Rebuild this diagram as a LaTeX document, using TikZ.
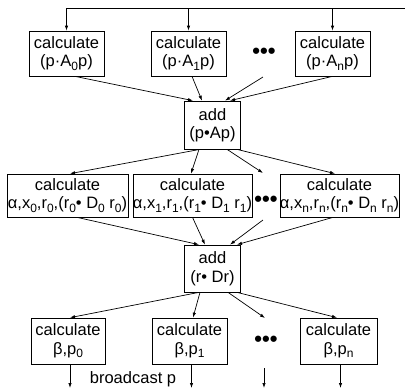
\documentclass[tikz,border=0pt]{standalone}
\usepackage{fontspec}
\setmainfont{Liberation Sans}
\usetikzlibrary{arrows.meta}
\newcommand{\ix}[1]{\raisebox{-0.4ex}{\fontsize{12}{12}\selectfont #1}}

\begin{document}
\begin{tikzpicture}[x=1pt,y=-1pt,line width=0.7pt,
      >={Latex[length=5pt,width=3.4pt]},
      every node/.style={font=\fontsize{16.5}{18.5}\selectfont},
      box/.style={draw,align=center,inner sep=0pt},
      calcbox/.style={box,minimum width=75pt,minimum height=45pt},
      widebox/.style={box,minimum width=120pt,minimum height=43pt},
      addbox/.style={box,minimum width=56pt,minimum height=48pt},
      etc/.style={inner sep=0pt,font=\fontsize{22}{22}\selectfont\bfseries}]

      \useasboundingbox (0,0) rectangle (405,389);

      \node[calcbox] (pa0) at (66.5,53.5) {calculate\\(p·A\ix{0}p)};
      \node[calcbox] (pa1) at (188.5,53.5) {calculate\\(p·A\ix{1}p)};
      \node[etc] (dots1) at (264,53) {•••};
      \node[calcbox] (pan) at (332.5,53.5) {calculate\\(p·A\ix{n}p)};

      \node[addbox] (addp) at (212.5,125) {add\\(p•Ap)};

      \node[widebox,minimum width=121pt] (al0) at (67.5,195.5)
        {calculate\\α,x\ix{0},r\ix{0},(r\ix{0}• D\ix{0} r\ix{0})};
      \node[widebox,minimum width=119pt] (al1) at (192.5,195.5)
        {calculate\\α,x\ix{1},r\ix{1},(r\ix{1}• D\ix{1} r\ix{1})};
      \node[etc] (dots2) at (266,201) {•••};
      \node[widebox,minimum width=117pt] (aln) at (339.5,195.5)
        {calculate\\α,x\ix{n},r\ix{n},(r\ix{n}• D\ix{n} r\ix{n})};

      \node[addbox,minimum height=47pt] (addr) at (212.5,268.5) {add\\(r• Dr)};

      \node[calcbox,minimum width=74pt,minimum height=46pt] (be0) at (68,341) {calculate\\β,p\ix{0}};
      \node[calcbox,minimum height=46pt] (be1) at (189.5,341) {calculate\\β,p\ix{1}};
      \node[etc] (dots3) at (266,341) {•••};
      \node[calcbox,minimum width=77pt,minimum height=46pt] (ben) at (338.5,341) {calculate\\β,p\ix{n}};

      \node (bcast) at (133,379) {broadcast p};

      \coordinate (bus) at (405,8);
      \coordinate (e1) at (263,77);
      \coordinate (e2) at (263,173);
      \coordinate (e3) at (263,220);
      \coordinate (e4) at (265,318);
      \coordinate (e5) at (264,368);

      \draw (bus) -- (bus -| pa0.north);
      \foreach \n in {pa0,pa1,pan}
        \draw[->] (bus -| \n.north) -- (\n.north);

      \draw[->] ([xshift=8.5pt]pa0.south) -- ([xshift=-19.5pt]addp.north);
      \draw[->] ([xshift=3.5pt]pa1.south) -- ([xshift=-10.5pt]addp.north);
      \draw[->] (e1) -- ([xshift=12.5pt]addp.north);
      \draw[->] (pan.south) -- ([xshift=17.5pt]addp.north);

      \draw[->] ([xshift=-12.5pt]addp.south) -- ([xshift=2.5pt]al0.north);
      \draw[->] ([xshift=-13.5pt]addp.south) -- ([xshift=-1.5pt]al1.north);
      \draw[->] ([xshift=14.5pt]addp.south) -- (e2);
      \draw[->] ([xshift=24.5pt]addp.south) -- ([xshift=-4.5pt]aln.north);

      \draw[->] ([xshift=9.5pt]al0.south) -- ([xshift=-13.5pt]addr.north);
      \draw[->] (al1.south) -- ([xshift=-7.5pt]addr.north);
      \draw[->] (e3) -- ([xshift=17.5pt]addr.north);
      \draw[->] ([xshift=-6.5pt]aln.south) -- ([xshift=24.5pt]addr.north);

      \draw[->] ([xshift=-13.5pt]addr.south) -- ([xshift=2pt]be0.north);
      \draw[->] ([xshift=-12.5pt]addr.south) -- ([xshift=3.5pt]be1.north);
      \draw[->] ([xshift=15.5pt]addr.south) -- (e4);
      \draw[->] ([xshift=24.5pt]addr.south) -- ([xshift=-1.5pt]ben.north);

      \foreach \n in {be0,be1,ben}
        \draw[->] ([xshift=2pt]\n.south) -- ([xshift=2pt]\n.south |- 0,388);
      \draw[->] (e5) -- (e5 |- 0,388);
\end{tikzpicture}
\end{document}
